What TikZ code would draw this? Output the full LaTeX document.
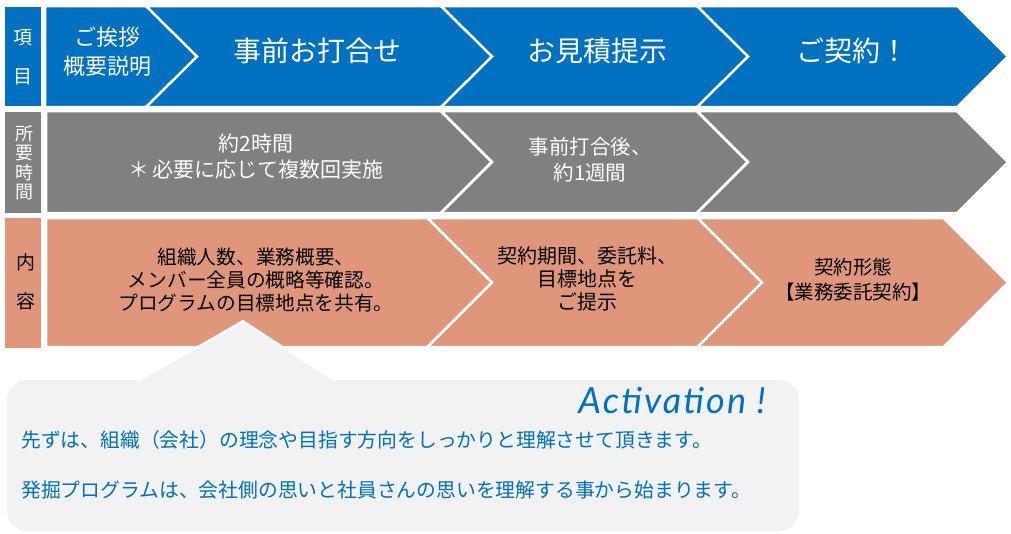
\documentclass[tikz,border=0pt]{standalone}
\usepackage{fontspec}
\setmainfont{Noto Sans CJK JP}
\newfontfamily\actfont{Lato}[LetterSpace=6]
\definecolor{itemblue}{RGB}{0,112,192}
\definecolor{timegray}{RGB}{128,128,128}
\definecolor{bodysalmon}{RGB}{224,150,122}
\definecolor{calloutgray}{RGB}{242,242,242}
\tikzset{
  blu/.style={fill=itemblue,draw=white,line width=2.5pt},
  gry/.style={fill=timegray,draw=white,line width=2.5pt},
  slm/.style={fill=bodysalmon,draw=white,line width=2.5pt},
  txt/.style={align=center,inner sep=0pt},
}
\newcommand{\fs}[2]{\fontsize{#1}{#2}\selectfont}
\begin{document}
\begin{tikzpicture}[x=1pt,y=-1pt]
\useasboundingbox (0,0) rectangle (1011,533);
% left labels
\fill[itemblue] (5,7) rectangle (41,106);
\fill[timegray] (5,112) rectangle (41,213);
\fill[bodysalmon] (5,218) rectangle (41,348);
\node[txt,text=white,font=\fs{19}{39}] (lbl1) at (23,57) {項\\目};
\node[txt,text=white,font=\fs{18}{19.5}] (lbl2) at (24,163) {所\\要\\時\\間};
\node[txt,text=black,font=\fs{19}{39}] (lbl3) at (26,282) {内\\容};
% row 1
\draw[blu] (45,6) -- (146,6) -- (197,56.5) -- (146,107) -- (45,107) -- cycle;
\draw[blu] (146,6) -- (441,6) -- (492,56.5) -- (441,107) -- (146,107) -- (197,56.5) -- cycle;
\draw[blu] (441,6) -- (697,6) -- (748,56.5) -- (697,107) -- (441,107) -- (492,56.5) -- cycle;
\draw[blu] (697,6) -- (957,6) -- (1008,56.5) -- (957,107) -- (697,107) -- (748,56.5) -- cycle;
% row 2
\draw[gry] (46,111) -- (441,111) -- (492,162) -- (441,213) -- (46,213) -- cycle;
\draw[gry] (441,111) -- (697,111) -- (748,162) -- (697,213) -- (441,213) -- (492,162) -- cycle;
\draw[gry] (697,111) -- (957,111) -- (1008,162) -- (957,213) -- (697,213) -- (748,162) -- cycle;
% row 3
\draw[slm] (46,218) -- (427.5,218) -- (492,282.5) -- (427.5,347) -- (46,347) -- cycle;
\draw[slm] (427.5,218) -- (697.5,218) -- (762,282.5) -- (697.5,347) -- (427.5,347) -- (492,282.5) -- cycle;
\draw[slm] (697.5,218) -- (943.5,218) -- (1008,282.5) -- (943.5,347) -- (697.5,347) -- (762,282.5) -- cycle;
% texts
\node[txt,text=white,font=\fs{22}{29}] (greet) at (107,52) {ご挨拶\\概要説明};
\node[txt,text=white,font=\fs{28}{30}] (meet) at (317,51) {事前お打合せ};
\node[txt,text=white,font=\fs{28}{30}] (quote) at (597,51) {お見積提示};
\node[txt,text=white,font=\fs{28}{30}] (deal) at (852,51) {ご契約！};
\node[txt,text=white,font=\fs{21}{26}] (time1) at (256,157) {約2時間\\＊\,必要に応じて複数回実施};
\node[txt,text=white,font=\fs{20.5}{26}] (time2) at (590,160) {事前打合後、\\約1週間};
\node[txt,font=\fs{19.7}{23}] (body1) at (256,280) {組織人数、業務概要、\\メンバー全員の概略等確認。\\プログラムの目標地点を共有。};
\node[txt,font=\fs{20}{23}] (body2) at (587,279) {契約期間、委託料、\\目標地点を\\ご提示};
\node[txt,font=\fs{19.5}{25}] (body3) at (853,280) {契約形態\\【業務委託契約】};
% callout
\fill[calloutgray,rounded corners=20] (7,380) rectangle (799,531);
\filldraw[fill=calloutgray,draw=white,line width=2pt] (138,381) -- (243,321) -- (335,381);
\node[txt,anchor=base east,text=itemblue,font=\actfont\itshape\fs{36}{40}] (act) at (766,413) {Activation !};
\node[txt,anchor=west,text=itemblue,font=\fs{19.8}{22}] (line1) at (21,440) {先ずは、組織（会社）の理念や目指す方向をしっかりと理解させて頂きます。};
\node[txt,anchor=west,text=itemblue,font=\fs{19.8}{22}] (line2) at (21,490) {発掘プログラムは、会社側の思いと社員さんの思いを理解する事から始まります。};
\end{tikzpicture}
\end{document}
